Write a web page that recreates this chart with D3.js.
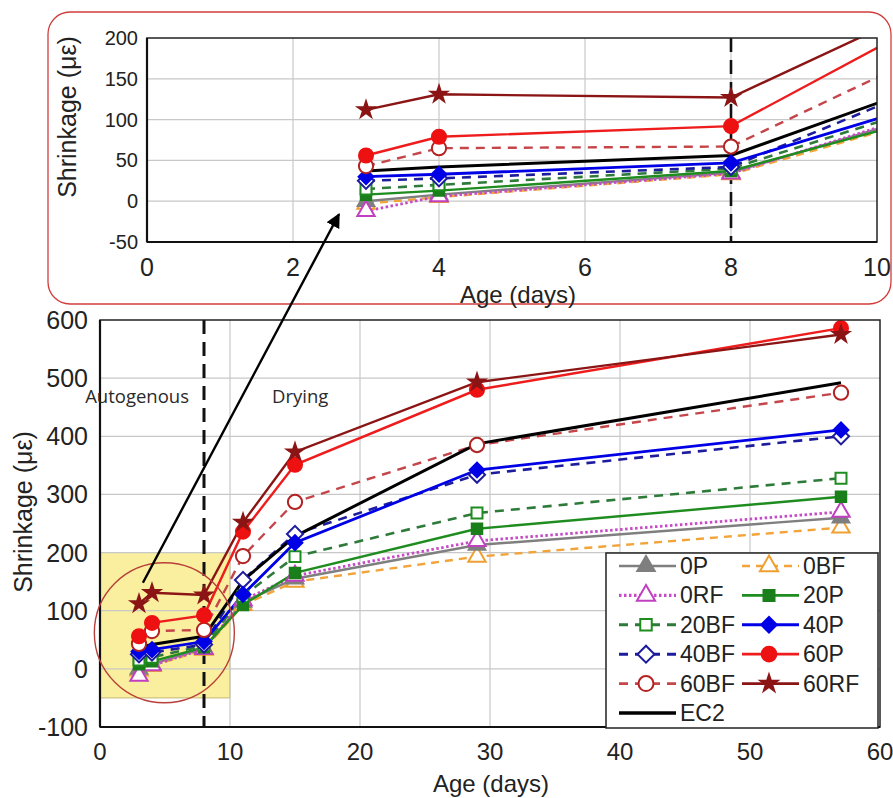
<!DOCTYPE html>
<html><head><meta charset="utf-8">
<script src="https://cdn.jsdelivr.net/npm/d3@7"></script>
<style>
body{margin:0;background:#fff;}
text{font-family:"Liberation Sans",Arial,sans-serif;fill:#222;}
</style></head>
<body>
<svg id="chart" width="893" height="798"></svg>
<script>
// ---------- data ----------
const ages = [3, 4, 8, 11, 15, 29, 57];
const s0P   = [0, 8, 35, 115, 155, 213, 260];
const s0BF  = [-3, 5, 33, 110, 150, 193, 243];
const s0RF  = [-12, 6, 34, 118, 160, 220, 270];
const s20P  = [8, 13, 37, 110, 165, 241, 296];
const s20BF = [15, 20, 40, 125, 193, 268, 328];
const s40P  = [30, 33, 47, 128, 217, 342, 411];
const s40BF = [25, 28, 42, 153, 232, 334, 400];
const s60P  = [56, 79, 92, 236, 351, 480, 586];
const s60BF = [43, 65, 67, 194, 287, 385, 475];
const s60RF = [112, 131, 127, 252, 373, 493, 575];
const sEC2  = [37, 42, 56, 152, 228, 387, 492];
const seriesNames = ["0P","0BF","0RF","20P","20BF","40P","40BF","60P","60BF","60RF","EC2"];
const mainXTicks = [0,10,20,30,40,50,60];
const mainYTicks = [-100,0,100,200,300,400,500,600];
const insetXTicks = [0,2,4,6,8,10];
const insetYTicks = [-50,0,50,100,150,200];

const styles = {
  "0P":   {vals:s0P,   color:"#7f7f7f", mcolor:"#7f7f7f", dash:null,  sym:"tri",  fill:true,  size:120, w:2.4},
  "0BF":  {vals:s0BF,  color:"#f2a43a", mcolor:"#f0a030", dash:"8,6", sym:"tri",  fill:false, size:130, w:2.4},
  "0RF":  {vals:s0RF,  color:"#c64bc6", mcolor:"#c040c0", dash:"2.5,2.5", sym:"tri", fill:false, size:130, w:2.8},
  "20P":  {vals:s20P,  color:"#1e8c1e", mcolor:"#1a7f1a", dash:null,  sym:"sq",   fill:true,  size:110, w:2.4},
  "20BF": {vals:s20BF, color:"#2d7a3a", mcolor:"#1e8c1e", dash:"9,7", sym:"sq",   fill:false, size:120, w:2.6},
  "40P":  {vals:s40P,  color:"#0000e6", mcolor:"#0000e6", dash:null,  sym:"dia",  fill:true,  size:110, w:2.8},
  "40BF": {vals:s40BF, color:"#1c1c9c", mcolor:"#1c1c9c", dash:"9,7", sym:"dia",  fill:false, size:130, w:2.6},
  "60P":  {vals:s60P,  color:"#ee1c1c", mcolor:"#ee1111", dash:null,  sym:"cir",  fill:true,  size:155, w:2.4},
  "60BF": {vals:s60BF, color:"#c4454a", mcolor:"#b22222", dash:"9,7", sym:"cir",  fill:false, size:160, w:2.4},
  "60RF": {vals:s60RF, color:"#8b1414", mcolor:"#8b1414", dash:null,  sym:"star", fill:true,  size:80,  w:2.4},
  "EC2":  {vals:sEC2,  color:"#000000", mcolor:null,      dash:null,  sym:null,   fill:true,  size:0,   w:3}
};
const symTypes = {tri:d3.symbolTriangle, sq:d3.symbolSquare, dia:d3.symbolSquare, cir:d3.symbolCircle, star:d3.symbolStar};
const drawOrder = ["0BF","0P","0RF","20P","20BF","40BF","40P","60BF","60P","60RF","EC2"];

const svg = d3.select("#chart");
svg.append("rect").attr("width",893).attr("height",798).attr("fill","#fff");

// ---------- scales ----------
const x = d3.scaleLinear().domain([0,60]).range([100,880]);
const y = d3.scaleLinear().domain([-100,600]).range([727,320]);
const xi = d3.scaleLinear().domain([0,10]).range([147,877]);
const yi = d3.scaleLinear().domain([-50,200]).range([242,38]);

svg.append("defs").html(`
 <clipPath id="clipMain"><rect x="${x(0)}" y="${y(600)}" width="${x(60)-x(0)}" height="${y(-100)-y(600)}"/></clipPath>
 <clipPath id="clipInset"><rect x="${xi(0)}" y="${yi(200)}" width="${xi(10)-xi(0)}" height="${yi(-50)-yi(200)}"/></clipPath>
 <marker id="arrow" viewBox="0 0 10 10" refX="9" refY="5" markerWidth="6" markerHeight="6" orient="auto-start-reverse">
   <path d="M0,0 L10,5 L0,10 z" fill="#000"/></marker>`);

function symPath(s, scale){
  return d3.symbol().type(symTypes[s.sym]).size(s.size*(scale||1))();
}
function symTransform(s, px, py){
  return `translate(${px},${py})` + (s.sym==="dia" ? " rotate(45)" : "");
}

function drawSeries(g, xs, ys, clipId, n){
  const gg = g.append("g").attr("clip-path",`url(#${clipId})`);
  drawOrder.forEach(name=>{
    const s = styles[name];
    const pts = ages.map((a,i)=>[a, s.vals[i]]).slice(0,n);
    const line = d3.line().x(d=>xs(d[0])).y(d=>ys(d[1]));
    gg.append("path").attr("d",line(pts)).attr("fill","none")
      .attr("stroke",s.color).attr("stroke-width",s.w)
      .attr("stroke-dasharray",s.dash);
  });
  drawOrder.forEach(name=>{
    const s = styles[name];
    if(!s.sym) return;
    const pts = ages.map((a,i)=>[a, s.vals[i]]).slice(0,n);
    gg.selectAll(null).data(pts).join("path")
      .attr("transform",d=>symTransform(s, xs(d[0]), ys(d[1])))
      .attr("d",symPath(s))
      .attr("fill",s.fill? s.mcolor : "#fff")
      .attr("stroke",s.mcolor).attr("stroke-width",2);
  });
}

// ---------- inset ----------
svg.append("rect").attr("x",48).attr("y",12).attr("width",843).attr("height",292)
  .attr("rx",22).attr("fill","#fff").attr("stroke","#d23c3c").attr("stroke-width",1.3);
const gi = svg.append("g");
gi.selectAll(null).data(insetXTicks.slice(1,-1)).join("line")
  .attr("x1",d=>xi(d)).attr("x2",d=>xi(d)).attr("y1",yi(200)).attr("y2",yi(-50))
  .attr("stroke","#c8c8c8").attr("stroke-width",1.2);
gi.selectAll(null).data(insetYTicks.slice(1,-1)).join("line")
  .attr("y1",d=>yi(d)).attr("y2",d=>yi(d)).attr("x1",xi(0)).attr("x2",xi(10))
  .attr("stroke","#c8c8c8").attr("stroke-width",1.2);
gi.append("line").attr("x1",xi(8)).attr("x2",xi(8)).attr("y1",yi(200)).attr("y2",yi(-50))
  .attr("stroke","#111").attr("stroke-width",2.6).attr("stroke-dasharray","14,8");
drawSeries(gi, xi, yi, "clipInset", 4);
gi.append("rect").attr("x",xi(0)).attr("y",yi(200)).attr("width",xi(10)-xi(0)).attr("height",yi(-50)-yi(200))
  .attr("fill","none").attr("stroke","#222").attr("stroke-width",1.5);
gi.append("line").attr("x1",xi(0)).attr("x2",xi(0)).attr("y1",yi(200)).attr("y2",yi(-50)).attr("stroke","#111").attr("stroke-width",2.2);
gi.append("line").attr("x1",xi(0)).attr("x2",xi(10)).attr("y1",yi(-50)).attr("y2",yi(-50)).attr("stroke","#111").attr("stroke-width",2.2);
gi.selectAll(null).data(insetYTicks).join("text")
  .attr("x",xi(0)-9).attr("y",d=>yi(d)+7).attr("text-anchor","end")
  .attr("font-size",20).text(d=>d);
gi.selectAll(null).data(insetXTicks).join("text")
  .attr("x",d=>xi(d)).attr("y",276).attr("text-anchor","middle")
  .attr("font-size",25).text(d=>d);
gi.append("text").attr("x",518).attr("y",303).attr("text-anchor","middle").attr("font-size",24).text("Age (days)");
gi.append("text").attr("transform",`translate(76,117) rotate(-90)`).attr("text-anchor","middle")
  .attr("font-size",25).text("Shrinkage (με)");

// ---------- main ----------
const gm = svg.append("g");
gm.append("rect").attr("x",x(0)).attr("y",y(200)).attr("width",x(10)-x(0)).attr("height",y(-50)-y(200))
  .attr("fill","#f9ef9e").attr("stroke","#b8a860").attr("stroke-width",0.8);
gm.selectAll(null).data(mainXTicks.slice(1,-1)).join("line")
  .attr("x1",d=>x(d)).attr("x2",d=>x(d)).attr("y1",y(600)).attr("y2",y(-100))
  .attr("stroke","#c8c8c8").attr("stroke-width",1.2);
gm.selectAll(null).data(mainYTicks.slice(1,-1)).join("line")
  .attr("y1",d=>y(d)).attr("y2",d=>y(d)).attr("x1",x(0)).attr("x2",x(60))
  .attr("stroke","#c8c8c8").attr("stroke-width",1.2);
gm.append("line").attr("x1",x(8)).attr("x2",x(8)).attr("y1",y(600)).attr("y2",y(-100))
  .attr("stroke","#111").attr("stroke-width",3).attr("stroke-dasharray","14,8");
drawSeries(gm, x, y, "clipMain", 7);
gm.append("rect").attr("x",x(0)).attr("y",y(600)).attr("width",x(60)-x(0)).attr("height",y(-100)-y(600))
  .attr("fill","none").attr("stroke","#222").attr("stroke-width",1.5);
gm.append("line").attr("x1",x(0)).attr("x2",x(0)).attr("y1",y(600)).attr("y2",y(-100)).attr("stroke","#111").attr("stroke-width",2.2);
gm.append("line").attr("x1",x(0)).attr("x2",x(60)).attr("y1",y(-100)).attr("y2",y(-100)).attr("stroke","#111").attr("stroke-width",2.2);
gm.selectAll(null).data(mainYTicks).join("text")
  .attr("x",x(0)-12).attr("y",d=>y(d)+9).attr("text-anchor","end")
  .attr("font-size",25).text(d=>d);
gm.selectAll(null).data(mainXTicks).join("text")
  .attr("x",d=>x(d)).attr("y",760).attr("text-anchor","middle")
  .attr("font-size",24).text(d=>d);
gm.append("text").attr("x",491).attr("y",792).attr("text-anchor","middle").attr("font-size",24).text("Age (days)");
gm.append("text").attr("transform",`translate(32,512) rotate(-90)`).attr("text-anchor","middle")
  .attr("font-size",25).text("Shrinkage (με)");
gm.append("text").attr("x",x(2.85)).attr("y",y(457)).attr("text-anchor","middle")
  .attr("font-size",18.5).style("font-family","'Open Sans',sans-serif").style("fill","#2a2a2a").text("Autogenous");
gm.append("text").attr("x",x(15.4)).attr("y",y(457)).attr("text-anchor","middle")
  .attr("font-size",18.5).style("font-family","'Open Sans',sans-serif").style("fill","#2a2a2a").text("Drying");

// red circle highlight
gm.append("circle").attr("cx",x(4.95)).attr("cy",y(62)).attr("r",70)
  .attr("fill","none").attr("stroke","#b8403a").attr("stroke-width",1.4);

// arrow to inset
svg.append("line").attr("x1",x(3.3)).attr("y1",y(148)).attr("x2",xi(2.63)).attr("y2",yi(-16))
  .attr("stroke","#000").attr("stroke-width",2.4).attr("marker-end","url(#arrow)");

// ---------- legend ----------
const lg = svg.append("g");
lg.append("rect").attr("x",606).attr("y",553).attr("width",272).attr("height",175)
  .attr("fill","#fff").attr("stroke","#222").attr("stroke-width",1.5);
const legendOrder = ["0P","0BF","0RF","20P","20BF","40P","40BF","60P","60BF","60RF","EC2"];
legendOrder.forEach((name,i)=>{
  const s = styles[name];
  const col = i%2, row = Math.floor(i/2);
  const x0 = col===0 ? 619 : 742;
  const cy = 566 + row*29.4;
  const gl = lg.append("g");
  gl.append("line").attr("x1",x0).attr("x2",x0+57).attr("y1",cy).attr("y2",cy)
    .attr("stroke",s.color).attr("stroke-width",s.w+0.3).attr("stroke-dasharray",s.dash);
  if(s.sym){
    gl.append("path").attr("transform",symTransform(s, x0+27, cy))
      .attr("d",symPath(s,1.1))
      .attr("fill",s.fill? s.mcolor:"#fff").attr("stroke",s.mcolor).attr("stroke-width",2);
  }
  gl.append("text").attr("x",x0+61).attr("y",cy+8).attr("font-size",23).text(name);
});
</script>
</body></html>
